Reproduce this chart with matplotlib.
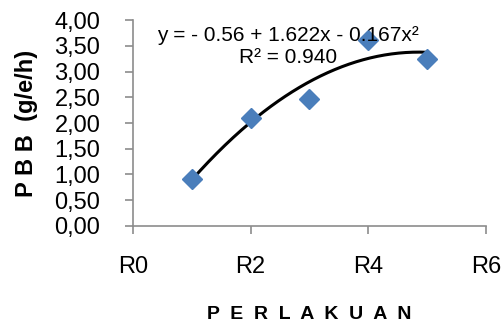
import numpy as np
import matplotlib.pyplot as plt

plt.rcParams['font.family'] = ['Liberation Sans', 'DejaVu Sans']

# data
perlakuan = [1, 2, 3, 4, 5]
pbb = [0.91, 2.10, 2.47, 3.61, 3.24]
tick_pos = [0, 2, 4, 6]
tick_labels = ['R0', 'R2', 'R4', 'R6']
coef = [-0.56, 1.622, -0.167]

fig = plt.figure(figsize=(5.04, 3.25), dpi=100)
ax = fig.add_axes([0.264, 0.305, 0.700, 0.633])

# trend line
xs = np.linspace(perlakuan[0], perlakuan[-1], 200)
ys = coef[0] + coef[1] * xs + coef[2] * xs ** 2
ax.plot(xs, ys, color='black', lw=2.2, zorder=2)
ax.plot(perlakuan, pbb, linestyle='none', marker='D', ms=10,
        color='#4A7EBB', mec='#4A7EBB', zorder=3)

ax.set_xlim(0, 6)
ax.set_ylim(0, 4)
ax.set_xticks(tick_pos)
ax.set_xticklabels(tick_labels)
yt = np.arange(0, 4.01, 0.5)
ax.set_yticks(yt)
ax.set_yticklabels([f'{v:.2f}'.replace('.', ',') for v in yt])

for s in ['top', 'right']:
    ax.spines[s].set_visible(False)
for s in ['left', 'bottom']:
    ax.spines[s].set_color('#8C8C8C')
    ax.spines[s].set_linewidth(1.2)
ax.tick_params(axis='both', colors='#8C8C8C', width=1.2, length=5.5,
               labelsize=17, labelcolor='black')
ax.tick_params(axis='y', pad=18)
ax.tick_params(axis='x', pad=16)

ax.set_xlabel('P  E  R  L  A  K  U  A  N', fontsize=14, fontweight='bold', labelpad=20)
ax.set_ylabel('P B B  (g/e/h)', fontsize=17, fontweight='bold', labelpad=12)

ax.text(0.44, 0.927, 'y = - 0.56 + 1.622x - 0.167x²', transform=ax.transAxes,
        ha='center', va='center', fontsize=15)
ax.text(0.44, 0.82, 'R² = 0.940', transform=ax.transAxes,
        ha='center', va='center', fontsize=15)

fig.savefig('out.png', dpi=100)
